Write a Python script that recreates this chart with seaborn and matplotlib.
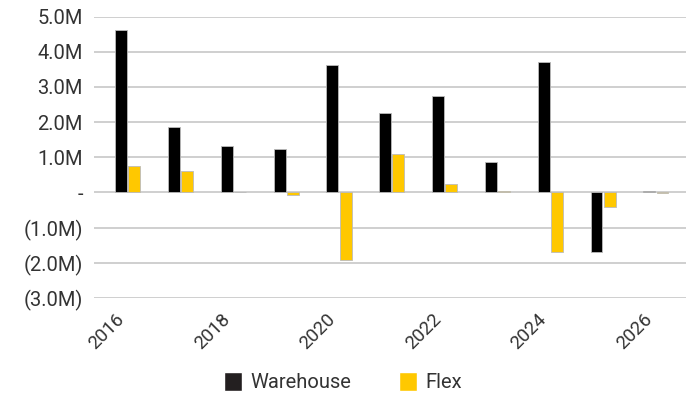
import matplotlib
matplotlib.use("Agg")
import matplotlib.pyplot as plt
import seaborn as sns
import pandas as pd
from matplotlib.patches import Patch

years = [2016, 2017, 2018, 2019, 2020, 2021, 2022, 2023, 2024, 2025, 2026]
warehouse = [4.61, 1.86, 1.33, 1.23, 3.61, 2.26, 2.75, 0.86, 3.72, -1.69, 0.05]
flex = [0.75, 0.61, 0.01, -0.085, -1.93, 1.09, 0.24, 0.05, -1.69, -0.41, -0.03]
series = ["Warehouse", "Flex"]
colors = ["#000000", "#FFC800"]
ytick_vals = [-3, -2, -1, 0, 1, 2, 3, 4, 5]
ytick_labels = ["(3.0M)", "(2.0M)", "(1.0M)", "-", "1.0M", "2.0M", "3.0M", "4.0M", "5.0M"]

df = pd.DataFrame({
    "year": [str(y) for y in years] * 2,
    "value": warehouse + flex,
    "series": [series[0]] * len(years) + [series[1]] * len(years),
})

sns.set_style("white")
plt.rcParams["font.family"] = ["Roboto", "DejaVu Sans"]

fig = plt.figure(figsize=(6.86, 3.94), dpi=100)
ax = fig.add_axes([0.137, 0.2437, 0.863, 0.7143])

sns.barplot(data=df, x="year", y="value", hue="series", palette=colors,
            saturation=1, width=0.5, gap=0.1, ax=ax, legend=False,
            edgecolor="#bbbbbb", linewidth=0.6)

ax.set_ylim(-3, 5)
ax.set_xlim(-0.64, 10.57)
ax.set_yticks(ytick_vals)
ax.set_yticklabels(ytick_labels)
ax.yaxis.grid(True, color="#cccccc", linewidth=1.3)
ax.set_axisbelow(True)
for s in ax.spines.values():
    s.set_visible(False)
ax.tick_params(axis="y", length=0, pad=8, labelsize=14.5, labelcolor="#333333")

xt = list(range(0, len(years), 2))
ax.set_xticks(xt)
ax.set_xticklabels([str(years[i]) for i in xt], rotation=45, ha="right")
ax.tick_params(axis="x", length=0, pad=9, labelsize=13.5, labelcolor="#333333")
ax.set_xlabel("")
ax.set_ylabel("")

handles = [Patch(facecolor="#231F20"), Patch(facecolor=colors[1])]
fig.legend(handles, series, loc="center", bbox_to_anchor=(0.5, 0.03), ncol=2,
           frameon=False, fontsize=14.5, labelcolor="#333333",
           handlelength=0.9, handleheight=1.1, columnspacing=2.4, handletextpad=0.4)

fig.savefig("out.png", dpi=100)
